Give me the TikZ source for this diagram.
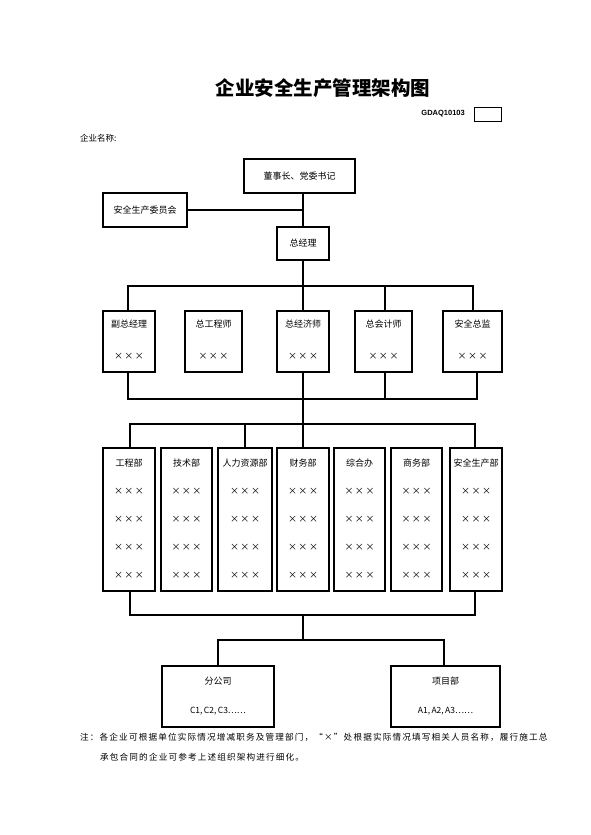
\documentclass[tikz,border=0pt]{standalone}
\usepackage{fontspec}
\setmainfont{Noto Sans CJK SC}
\newfontfamily\latinfont{Liberation Sans}
\usetikzlibrary{fit,calc}
\begin{document}
\begin{tikzpicture}[x=1pt,y=-1pt,
  box/.style={draw,line width=1.4pt,inner sep=0pt},
  conn/.style={line width=1.5pt},
  lbl/.style={font=\fontsize{9}{10}\selectfont,inner sep=0pt},
  xx/.style={font=\fontsize{9}{10}\selectfont,inner sep=0pt}]
\useasboundingbox[fill=white] (0,0) rectangle (590,835);
% title
\node[font=\fontsize{19.5}{20}\selectfont\bfseries,inner sep=0pt] (title) at (323,88) {企业安全生产管理架构图};
\node[font=\latinfont\bfseries\fontsize{7.5}{8}\selectfont,inner sep=0pt,anchor=east] (code) at (465,114) {GDAQ10103};
\node[draw,line width=1pt,fit={(474,107)(501,121)},inner sep=0pt] (codebox) {};
\node[lbl,anchor=west,font=\fontsize{8.5}{9}\selectfont] (qymc) at (80,138) {企业名称:};
% top
\node[box,fit={(244,159)(355,193)}] (dsz) {};
\node[lbl] at (dsz.center) {董事长、党委书记};
\node[box,fit={(103,193)(187,227)}] (aqw) {};
\node[lbl] at (aqw.center) {安全生产委员会};
\node[box,fit={(277,227)(329,260)}] (zjl) {};
\node[lbl] at (zjl.center) {总经理};
\draw[conn] (dsz.south -| zjl.north) -- (zjl.north);
\draw[conn] (aqw.east) -- (aqw.east -| zjl.north);
% level 2
\coordinate (busA) at (303,286);
\coordinate (busB) at (303,399);
\node[box,fit={(103,311)(155,372)}] (b1) {};
\node[box,fit={(185,311)(242,372)}] (b2) {};
\node[box,fit={(277,311)(329,372)}] (b3) {};
\node[box,fit={(355,311)(412,372)}] (b4) {};
\node[box,fit={(443,311)(502,372)}] (b5) {};
\foreach \n/\t in {b1/副总经理,b2/总工程师,b3/总经济师,b4/总会计师,b5/安全总监}{
  \node[lbl] at ($(\n.north)+(0,14)$) {\t};
  \node[xx] at ($(\n.north)+(0,46)$) {×\,×\,×};
}
\draw[conn] (zjl.south) -- (b3.north);
\draw[conn] ($(b1.north)+(-1,0)$) |- (busA);
\draw[conn] (busA) -| ($(b5.north)+(0.5,0)$);
\draw[conn] ($(b2.north)+(-1.5,0)$) -- ($(b2.north)+(-1.5,0)$ |- busA);
\draw[conn] (b4.north -| 385,0) -- (busA -| 385,0);
\draw[conn] ($(b1.south)+(-1,0)$) |- (busB);
\draw[conn] (busB) -| ($(b5.south)+(4.5,0)$);
\draw[conn] ($(b2.south)+(6.5,0)$) -- ($(b2.south)+(6.5,0)$ |- busB);
\draw[conn] (b4.south -| 385,0) -- (busB -| 385,0);
% level 3
\coordinate (busC) at (303,424);
\coordinate (busD) at (303,615);
\node[box,fit={(103,448)(155,591)}] (c1) {};
\node[box,fit={(161,448)(212,591)}] (c2) {};
\node[box,fit={(218,448)(272,591)}] (c3) {};
\node[box,fit={(277,448)(329,591)}] (c4) {};
\node[box,fit={(334,448)(385,591)}] (c5) {};
\node[box,fit={(391,448)(442,591)}] (c6) {};
\node[box,fit={(450,448)(502,591)}] (c7) {};
\foreach \n/\t in {c1/工程部,c2/技术部,c3/人力资源部,c4/财务部,c5/综合办,c6/商务部,c7/安全生产部}{
  \node[lbl] at ($(\n.north)+(0,16)$) {\t};
  \foreach \dy in {44,72,100,128}{
    \node[xx] at ($(\n.north)+(0,\dy)$) {×\,×\,×};
  }
}
\draw[conn] (b3.south) -- (c4.north);
\draw[conn] ($(c1.north)+(1,0)$) |- (busC);
\draw[conn] (busC) -| ($(c7.north)+(-1,0)$);
\draw[conn] ($(c2.north)+(0.5,0)$) -- ($(c2.north)+(0.5,0)$ |- busC);
\draw[conn] (c3.north) -- (c3.north |- busC);
\draw[conn] ($(c5.north)+(-4.5,0)$) -- ($(c5.north)+(-4.5,0)$ |- busC);
\draw[conn] ($(c6.north)+(-4.5,0)$) -- ($(c6.north)+(-4.5,0)$ |- busC);
\draw[conn] ($(c1.south)+(1,0)$) |- (busD);
\draw[conn] (busD) -| ($(c7.south)+(-1,0)$);
% bottom
\coordinate (busE) at (303,640);
\node[box,fit={(162,666)(274,727)}] (fgs) {};
\node[box,fit={(391,666)(500,727)}] (xmb) {};
\node[lbl] at ($(fgs.north)+(0,16)$) {分公司};
\node[lbl,font=\fontsize{8.5}{9}\selectfont] at ($(fgs.north)+(0,46)$) {C1,\,C2,\,C3……};
\node[lbl] at ($(xmb.north)+(0,16)$) {项目部};
\node[lbl,font=\fontsize{8.5}{9}\selectfont] at ($(xmb.north)+(0,46)$) {A1,\,A2,\,A3……};
\draw[conn] (busD) -- (busE);
\draw[conn] (fgs.north) |- (busE);
\draw[conn] (busE) -| ($(xmb.north)+(-1.5,0)$);
% note
\node[lbl,anchor=west,font=\fontsize{8.6}{9}\selectfont\addfontfeature{LetterSpace=13.5}] (note1) at (80,737) {注：各企业可根据单位实际情况增减职务及管理部门，“×”处根据实际情况填写相关人员名称，履行施工总};
\node[lbl,anchor=west,font=\fontsize{8.6}{9}\selectfont\addfontfeature{LetterSpace=13.5}] (note2) at (100,757) {承包合同的企业可参考上述组织架构进行细化。};
\end{tikzpicture}
\end{document}
